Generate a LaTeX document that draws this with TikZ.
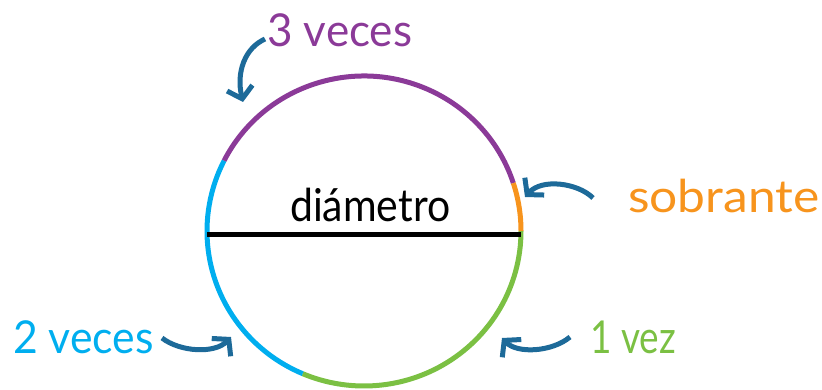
\documentclass[tikz,border=0pt]{standalone}
\usepackage{fontspec}
\setmainfont{Lato}
\usetikzlibrary{arrows.meta}
\definecolor{cpurple}{HTML}{8B3A98}
\definecolor{cblue}{HTML}{00AEEF}
\definecolor{cgreen}{HTML}{7BC043}
\definecolor{corange}{HTML}{F7941D}
\definecolor{carrow}{HTML}{1D6A99}
\begin{document}
\begin{tikzpicture}[x=1pt,y=-1pt,
  arcseg/.style={line width=5pt},
  pointer/.style={line width=5pt, draw=carrow, -{Straight Barb[length=11pt,width=26pt]}},
  lbl/.style={font=\fontsize{44}{44}\selectfont, inner sep=0pt, anchor=base west}]
\useasboundingbox (0,0) rectangle (822,390);
\coordinate (c) at (364,231);
% circle arcs
\draw[arcseg,cgreen] ([shift={(0:157 and 155)}]c) arc[start angle=0,end angle=113,x radius=157,y radius=155];
\draw[arcseg,cblue] ([shift={(113:157 and 155)}]c) arc[start angle=113,end angle=207,x radius=157,y radius=155];
\draw[arcseg,cpurple] ([shift={(207:157 and 155)}]c) arc[start angle=207,end angle=342,x radius=157,y radius=155];
\draw[arcseg,corange] ([shift={(342:157 and 155)}]c) arc[start angle=342,end angle=360,x radius=157,y radius=155];
% diameter
\coordinate (dl) at (207,235);
\coordinate (dr) at (521,235);
\draw[line width=5pt,black] (dl) -- (dr);
\node[lbl] (diam) at (290,222) {\scalebox{0.93}[1.03]{diámetro}};
% labels
\node[lbl,cpurple] (tres) at (267,47) {\scalebox{1.0}[1.03]{3 veces}};
\node[lbl,corange] (sob) at (628,213) {\scalebox{1.13}[1.03]{sobrante}};
\node[lbl,cblue] (dos) at (13,353) {\scalebox{0.97}[1.03]{2 veces}};
\node[lbl,cgreen] (uno) at (590,353) {\scalebox{0.84}[1.03]{1 vez}};
% arrows
\coordinate (a1s) at (265,39); \coordinate (a1e) at (243,102);
\coordinate (a2s) at (593,198); \coordinate (a2e) at (525,197);
\coordinate (a3s) at (162,338); \coordinate (a3e) at (231,337);
\coordinate (a4s) at (570,337); \coordinate (a4e) at (502,338);
\draw[pointer] (a1s) .. controls (245,48) and (236,72) .. (a1e);
\draw[pointer] (a2s) .. controls (578,183) and (542,178) .. (a2e);
\draw[pointer] (a3s) .. controls (180,352) and (215,354) .. (a3e);
\draw[pointer] (a4s) .. controls (552,352) and (517,354) .. (a4e);
\end{tikzpicture}
\end{document}
